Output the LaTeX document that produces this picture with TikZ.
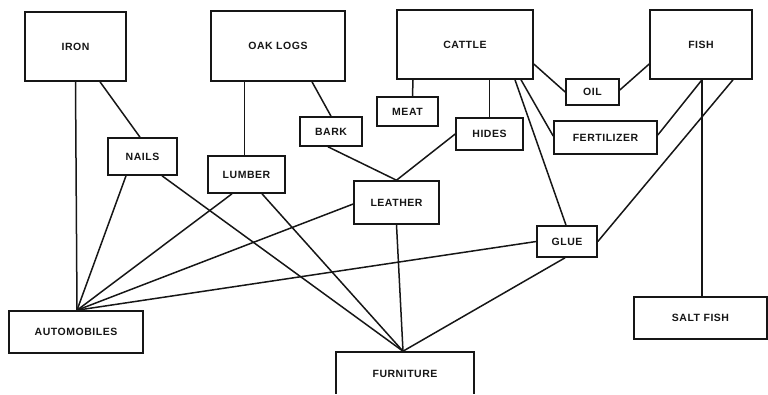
\documentclass[tikz,border=0pt]{standalone}
\usepackage{fontspec}
\setmainfont{Liberation Sans}
\newfontfamily\boxfont[LetterSpace=5]{Liberation Sans}
\usetikzlibrary{positioning}
\definecolor{inkdark}{RGB}{22,22,22}
\tikzset{
  prodline/.style={draw=inkdark, line width=1.5pt},
  prodbox/.style={
    draw=inkdark,
    fill=white,
    line width=1.6pt,
    align=center,
    text=inkdark,
    font=\boxfont\fontsize{10.5}{12}\selectfont\bfseries,
    inner sep=0pt
  }
}

\begin{document}
\begin{tikzpicture}[x=1pt, y=-1pt]
  \useasboundingbox (0,0) rectangle (768,394);
  \clip (0,0) rectangle (768,393);
  % raw materials
  \node[prodbox, minimum width=101pt, minimum height=69pt] (iron) at (75.5,46.5) {IRON};
  \node[prodbox, minimum width=134pt, minimum height=70pt] (oak) at (278,46) {OAK LOGS};
  \node[prodbox, minimum width=136pt, minimum height=69pt] (cattle) at (465,44.5) {CATTLE};
  \node[prodbox, minimum width=102pt, minimum height=69pt] (fish) at (701,44.5) {FISH};
  % by-products
  \node[prodbox, minimum width=61pt, minimum height=29pt] (meat) at (407.5,111.5) {MEAT};
  \node[prodbox, minimum width=62pt, minimum height=29pt] (bark) at (331,131.5) {BARK};
  \node[prodbox, minimum width=69pt, minimum height=37pt] (nails) at (142.5,156.5) {NAILS};
  \node[prodbox, minimum width=77pt, minimum height=37pt] (lumber) at (246.5,174.5) {LUMBER};
  \node[prodbox, minimum width=67pt, minimum height=32pt] (hides) at (489.5,134) {HIDES};
  \node[prodbox, minimum width=53pt, minimum height=26pt] (oil) at (592.5,92) {OIL};
  \node[prodbox, minimum width=103pt, minimum height=33pt] (fert) at (605.5,137.5) {FERTILIZER};
  \node[prodbox, minimum width=85pt, minimum height=43pt] (leather) at (396.5,202.5) {LEATHER};
  \node[prodbox, minimum width=60pt, minimum height=31pt] (glue) at (567,241.5) {GLUE};
  % finished goods
  \node[prodbox, minimum width=134pt, minimum height=42pt] (auto) at (76,332) {AUTOMOBILES};
  \node[prodbox, minimum width=138pt, minimum height=44pt] (furn) at (405,374) {FURNITURE};
  \node[prodbox, minimum width=133pt, minimum height=42pt] (salt) at (700.5,318) {SALT FISH};

  \coordinate (autoin) at ([xshift=1pt]auto.north);
  \coordinate (furnin) at ([xshift=-2pt]furn.north);

  \draw[prodline] (iron.south) -- (autoin);
  \draw[prodline] ([xshift=24.5pt]iron.south) -- ([xshift=-2.5pt]nails.north);
  \draw[prodline] ([xshift=-16.5pt]nails.south) -- (autoin);
  \draw[prodline] ([xshift=19.5pt]nails.south) -- (furnin);
  \draw[prodline] ([xshift=-33.5pt]oak.south) -- ([xshift=-2pt]lumber.north);
  \draw[prodline] ([xshift=34pt]oak.south) -- (bark.north);
  \draw[prodline] ([xshift=-3pt]bark.south) -- (leather.north);
  \draw[prodline] ([xshift=-14.5pt]lumber.south) -- (autoin);
  \draw[prodline] ([xshift=15.5pt]lumber.south) -- (furnin);
  \draw[prodline] ([yshift=-1.5pt]leather.west) -- (autoin);
  \draw[prodline] (leather.south) -- (furnin);
  \draw[prodline] (hides.west) -- (leather.north);
  \draw[prodline] ([xshift=-52pt]cattle.south) -- ([xshift=5pt]meat.north);
  \draw[prodline] ([xshift=24.5pt]cattle.south) -- (hides.north);
  \draw[prodline] ([xshift=50pt]cattle.south) -- ([xshift=-1pt]glue.north);
  \draw[prodline] ([xshift=56pt]cattle.south) -- ([yshift=1.5pt]fert.west);
  \draw[prodline] ([yshift=-19.5pt]cattle.east) -- (oil.west);
  \draw[prodline] ([yshift=2pt]oil.east) -- ([yshift=-19.5pt]fish.west);
  \draw[prodline] ([xshift=1pt]fish.south) -- ([yshift=2.5pt]fert.east);
  \draw[prodline] ([xshift=32pt]fish.south) -- (glue.east);
  \draw[prodline] ([xshift=1pt]fish.south) -- ([xshift=1.5pt]salt.north);
  \draw[prodline] (glue.west) -- (autoin);
  \draw[prodline] ([xshift=-2pt]glue.south) -- (furnin);
\end{tikzpicture}
\end{document}
